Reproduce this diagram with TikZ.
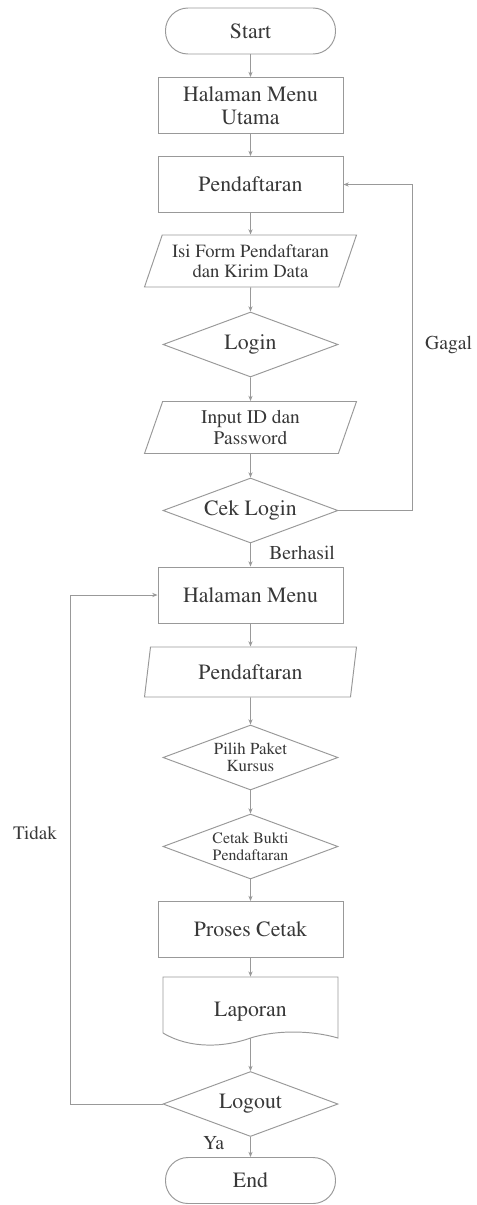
\documentclass[tikz,border=0pt]{standalone}
\usepackage[T1]{fontenc}
\usepackage{times}
\usetikzlibrary{shapes.geometric,arrows.meta}
\definecolor{linegray}{gray}{0.6}
\definecolor{textgray}{gray}{0.22}

\begin{document}
\begin{tikzpicture}[node distance=1.6cm,
    every node/.style={text=textgray, font=\fontsize{12.4}{13.2}\selectfont},
    line/.style={draw=linegray, line width=0.55pt},
    arrow/.style={line, -{Stealth[length=3pt,width=2.4pt]}},
    terminal/.style={line, rectangle, rounded corners=0.45cm, minimum width=3.4cm, minimum height=0.92cm},
    process/.style={line, rectangle, minimum width=3.7cm, minimum height=1.12cm, align=center},
    data/.style={line, trapezium, trapezium left angle=64, trapezium right angle=116, trapezium stretches body, minimum width=4.24cm, minimum height=1.04cm, inner sep=1pt, align=center},
    decision/.style={line, diamond, aspect=2.7, minimum width=3.5cm, minimum height=1.3cm, inner sep=0pt, align=center}]
    \useasboundingbox (0,0) rectangle (9.54,-24.1);

    % Nodes
    \node [terminal] (start) at (5.01,-0.62) {Start};
    \node [process, below of=start, node distance=1.49cm] (menuutama) {Halaman Menu\\Utama};
    \node [process, below of=menuutama, node distance=1.58cm] (daftar) {Pendaftaran};
    \node [data, below of=daftar, node distance=1.53cm, font=\fontsize{10.6}{11.4}\selectfont] (form) {Isi Form Pendaftaran\\dan Kirim Data};
    \node [decision, below of=form, node distance=1.67cm] (login) {Login};
    \node [data, below of=login, node distance=1.66cm, font=\fontsize{11}{11.6}\selectfont] (input) {Input ID dan\\Password};
    \node [decision, below of=input, node distance=1.66cm] (cek) {Cek Login};
    \node [process, below of=cek, node distance=1.69cm] (menu) {Halaman Menu};
    \node [data, below of=menu, node distance=1.54cm, trapezium left angle=72, trapezium right angle=108, minimum height=1cm] (daftardua) {Pendaftaran};
    \node [decision, below of=daftardua, node distance=1.71cm, font=\fontsize{9.6}{10}\selectfont] (paket) {Pilih Paket\\Kursus};
    \node [decision, below of=paket, node distance=1.78cm, font=\fontsize{9}{9.4}\selectfont] (cetak) {Cetak Bukti\\Pendaftaran};
    \node [process, below of=cetak, node distance=1.66cm] (proses) {Proses Cetak};
    \node [below of=proses, node distance=1.65cm, minimum width=3.5cm, minimum height=1.4cm] (laporan) {Laporan};
    \coordinate [below of=laporan, node distance=0.52cm] (lapout);
    \node [decision, below of=laporan, node distance=1.84cm] (logout) {Logout};
    \node [terminal, below of=logout, node distance=1.53cm] (end) {End};

    % Laporan document shape
    \draw [line, shift={(laporan.center)}] (-1.75,-0.42) -- (-1.75,0.7) -- (1.75,0.7) -- (1.75,-0.52)
        .. controls (1.2,-0.36) and (0.5,-0.36) .. (0,-0.52)
        .. controls (-0.5,-0.7) and (-1.2,-0.75) .. (-1.75,-0.42);

    % Loop corners and labels
    \coordinate [right of=cek, node distance=3.24cm] (gagalturn);
    \coordinate [left of=logout, node distance=3.61cm] (tidakturn);
    \node [right of=login, node distance=3.96cm, font=\fontsize{11.2}{12}\selectfont] (gagal) {Gagal};
    \node [left of=cetak, node distance=4.31cm, yshift=0.27cm, font=\fontsize{10.8}{12}\selectfont] (tidak) {Tidak};

    % Arrows
    \draw [arrow] (start) -- (menuutama);
    \draw [arrow] (menuutama) -- (daftar);
    \draw [arrow] (daftar) -- (form);
    \draw [arrow] (form) -- (login);
    \draw [arrow] (login) -- (input);
    \draw [arrow] (input) -- (cek);
    \draw [arrow] (cek) -- node [pos=0.42, right=0.25cm, font=\fontsize{11.2}{12}\selectfont] {Berhasil} (menu);
    \draw [arrow] (menu) -- (daftardua);
    \draw [arrow] (daftardua) -- (paket);
    \draw [arrow] (paket) -- (cetak);
    \draw [arrow] (cetak) -- (proses);
    \draw [arrow] (proses) -- (laporan);
    \draw [arrow] (lapout) -- (logout);
    \draw [arrow] (logout) -- node [pos=0.32, left=0.4cm, font=\fontsize{11.2}{12}\selectfont] {Ya} (end);
    \draw [arrow] (cek.east) -- (gagalturn) |- (daftar.east);
    \draw [arrow] (logout.west) -- (tidakturn) |- (menu.west);
\end{tikzpicture}
\end{document}
